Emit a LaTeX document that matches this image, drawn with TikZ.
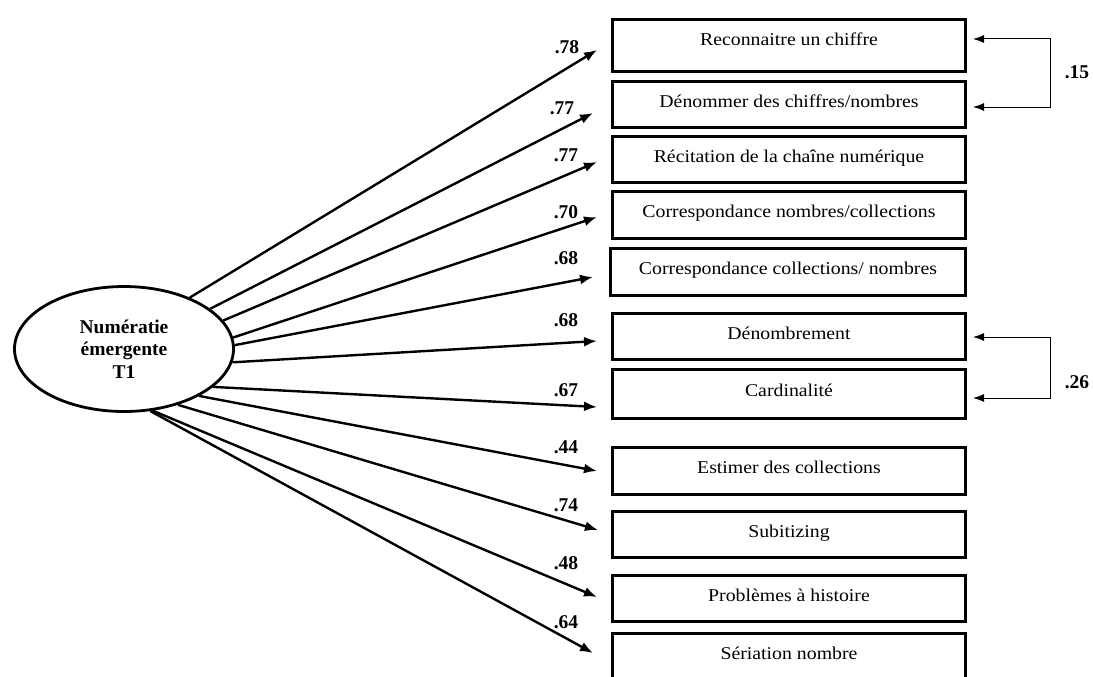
\documentclass[tikz,border=0pt]{standalone}
\usepackage{fontspec}
\setmainfont{Liberation Serif}
\newfontfamily\boxfont[FakeStretch=1.1]{Liberation Serif}
\usetikzlibrary{arrows.meta,shapes.geometric}
\begin{document}
\begin{tikzpicture}[x=1pt,y=-1pt,
  box/.style={draw, line width=2.6pt, minimum width=353pt, inner sep=0pt,
    font=\boxfont\fontsize{18}{20}\selectfont, text height=12pt, text depth=7pt},
  lat/.style={draw, ellipse, line width=2.8pt, minimum width=219pt, minimum height=125pt,
    inner sep=0pt, align=center, font=\bfseries\fontsize{19.5}{22.5}\selectfont},
  load/.style={line width=2.4pt, -{Latex[length=13pt,width=10pt]}},
  corr/.style={line width=1pt, {Latex[length=11pt,width=8pt]}-{Latex[length=11pt,width=8pt]}},
  coef/.style={font=\bfseries\fontsize{19.5}{22}\selectfont, inner sep=0pt}]
\clip (0,0) rectangle (1093,677);
\fill[white] (0,0) rectangle (1093,677);

% latent variable
\node[lat] (ell) at (124,349) {Numératie\\émergente\\T1};

% indicators
\node[box, minimum height=52pt, text depth=12pt] (b1) at (789,45.5) {Reconnaitre un chiffre};
\node[box, minimum height=46pt] (b2) at (789,104.5) {Dénommer des chiffres/nombres};
\node[box, minimum height=46pt] (b3) at (789,159.5) {Récitation de la chaîne numérique};
\node[box, minimum height=47pt] (b4) at (789,215) {Correspondance nombres/collections};
\node[box, minimum height=47pt, minimum width=355pt] (b5) at (788,272) {Correspondance collections/ nombres};
\node[box, minimum height=46pt] (b6) at (789,336.5) {Dénombrement};
\node[box, minimum height=49pt] (b7) at (789,394) {Cardinalité};
\node[box, minimum height=47pt] (b8) at (789,471) {Estimer des collections};
\node[box, minimum height=46pt] (b9) at (789,534.5) {Subitizing};
\node[box, minimum height=46pt] (b10) at (789,598.5) {Problèmes à histoire};
\node[box, minimum height=47pt] (b11) at (789,657) {Sériation nombre};

% arrow tips
\coordinate (t1) at (597,50);
\coordinate (t2) at (593,113);
\coordinate (t3) at (597,162);
\coordinate (t4) at (597,217);
\coordinate (t5) at (593,277);
\coordinate (t6) at (597,341);
\coordinate (t7) at (597,407);
\coordinate (t8) at (597,471);
\coordinate (t9) at (598,530);
\coordinate (t10) at (597,597);
\coordinate (t11) at (593,653);

\draw[load] (ell.38) -- (t1);
\draw[load] (ell.25) -- (t2);
\draw[load] (ell.16) -- (t3);
\draw[load] (ell.6) -- (t4);
\draw[load] (ell.2) -- (t5);
\draw[load] (ell.-7) -- (t6);
\draw[load] (ell.-23) -- (t7);
\draw[load] (ell.-32) -- (t8);
\draw[load] (ell.-46) -- (t9);
\draw[load] (ell.-65) -- (t10);
\draw[load] (ell.-67) -- (t11);

% loadings
\node[coef] (l1) at (567,47) {.78};
\node[coef] (l2) at (562,108) {.77};
\node[coef] (l3) at (566,155) {.77};
\node[coef] (l4) at (566,212) {.70};
\node[coef] (l5) at (566,258) {.68};
\node[coef] (l6) at (566,320) {.68};
\node[coef] (l7) at (566,390) {.67};
\node[coef] (l8) at (566,447) {.44};
\node[coef] (l9) at (566,505) {.74};
\node[coef] (l10) at (566,563) {.48};
\node[coef] (l11) at (566,622) {.64};

% correlated errors
\coordinate (c1a) at (973,39);
\coordinate (c1b) at (973,107);
\coordinate (k1) at (1050,107);
\draw[corr] (c1a) -| (k1) -- (c1b);
\node[coef] (r1) at (1077,72) {.15};

\coordinate (c2a) at (973,337);
\coordinate (c2b) at (973,398);
\coordinate (k2) at (1050,398);
\draw[corr] (c2a) -| (k2) -- (c2b);
\node[coef] (r2) at (1077,382) {.26};
\end{tikzpicture}
\end{document}
